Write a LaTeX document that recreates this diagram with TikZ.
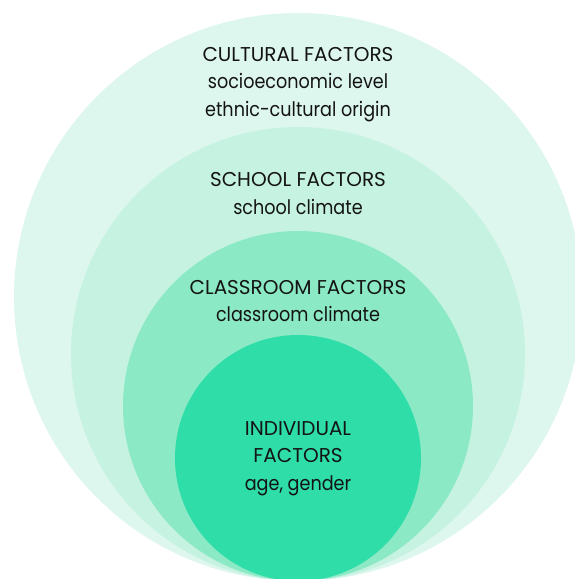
\documentclass[tikz,border=0pt]{standalone}
\usepackage{fontspec}
\setmainfont{Poppins}
\newfontfamily\subfont[FakeStretch=0.88]{Poppins}
\newcommand{\sublin}[1]{{\subfont #1}}
\definecolor{cOuter}{HTML}{DDF7EE}
\definecolor{cSchool}{HTML}{C6F3E1}
\definecolor{cClass}{HTML}{8BEAC5}
\definecolor{cIndiv}{HTML}{2EDDA8}
\definecolor{cText}{HTML}{141414}
\begin{document}
\begin{tikzpicture}[x=1pt,y=-1pt,
  ring/.style={circle,inner sep=0pt,draw=none},
  lbl/.style={text=cText,font=\fontsize{20}{27.5}\selectfont,align=center,inner sep=0pt}]
\useasboundingbox (0,0) rectangle (575,579);
\fill[white] (0,0) rectangle (575,579);
\clip (0,0) rectangle (575,579);
\node[ring,fill=cOuter,minimum size=568pt] (outer) at (298,297) {};
\node[ring,fill=cSchool,minimum size=454pt] (school) at (298,354) {};
\node[ring,fill=cClass,minimum size=350pt] (classroom) at (298,406) {};
\node[ring,fill=cIndiv,minimum size=246pt] (indiv) at (298,458) {};
\node[lbl] (tcult) at (298,84.5) {CULTURAL FACTORS\\\sublin{socioeconomic level}\\\sublin{ethnic-cultural origin}};
\node[lbl] (tschool) at (298,193.5) {SCHOOL FACTORS\\\sublin{school climate}};
\node[lbl] (tclass) at (298,301) {CLASSROOM FACTORS\\\sublin{classroom climate}};
\node[lbl] (tindiv) at (298,458.5) {INDIVIDUAL\\FACTORS\\\sublin{age, gender}};
\end{tikzpicture}
\end{document}
